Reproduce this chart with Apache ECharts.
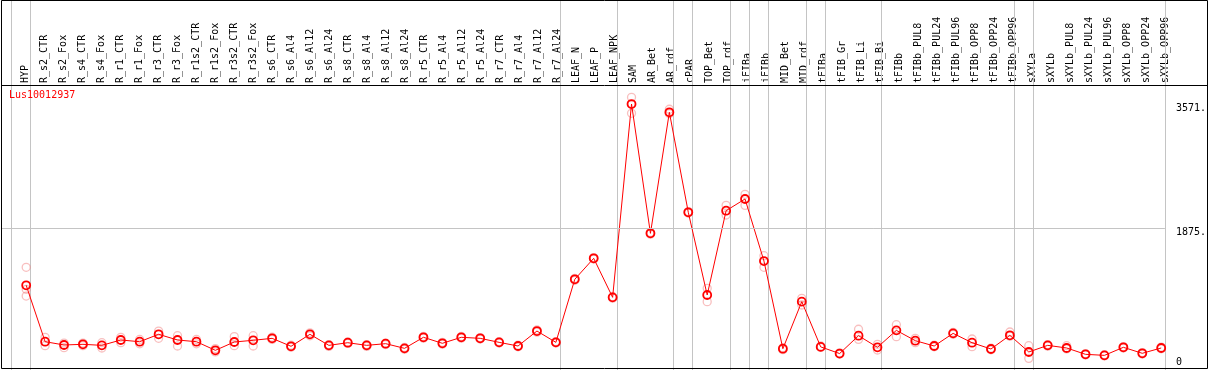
<!DOCTYPE html>
<html>
<head>
<meta charset="utf-8">
<script src="https://cdn.jsdelivr.net/npm/echarts@6/dist/echarts.min.js"></script>
<style>html,body{margin:0;padding:0;background:#fff;}#c{width:1209px;height:370px;}</style>
</head>
<body>
<div id="c"></div>
<script>
const geneName = 'Lus10012937';
const categories = ['HYP','R_s2_CTR','R_s2_Fox','R_s4_CTR','R_s4_Fox','R_r1_CTR','R_r1_Fox','R_r3_CTR','R_r3_Fox',
  'R_r1s2_CTR','R_r1s2_Fox','R_r3s2_CTR','R_r3s2_Fox','R_s6_CTR','R_s6_Al4','R_s6_Al12','R_s6_Al24',
  'R_s8_CTR','R_s8_Al4','R_s8_Al12','R_s8_Al24','R_r5_CTR','R_r5_Al4','R_r5_Al12','R_r5_Al24',
  'R_r7_CTR','R_r7_Al4','R_r7_Al12','R_r7_Al24','LEAF_N','LEAF_P','LEAF_NPK','SAM','AR_Bet','AR_rdf',
  'cPAR','TOP_Bet','TOP_rdf','iFIBa','iFIBb','MID_Bet','MID_rdf','tFIBa','tFIB_Gr','tFIB_Li','tFIB_Bi',
  'tFIBb','tFIBb_PUL8','tFIBb_PUL24','tFIBb_PUL96','tFIBb_OPP8','tFIBb_OPP24','tFIBb_OPP96',
  'sXYLa','sXYLb','sXYLb_PUL8','sXYLb_PUL24','sXYLb_PUL96','sXYLb_OPP8','sXYLb_OPP24','sXYLb_OPP96'];
const meanValues = [1091,319,274,283,269,342,319,420,342,319,201,315,338,365,256,420,269,305,269,292,228,
  379,297,379,365,310,260,465,310,1173,1460,926,3571,1802,3458,2090,958,2112,2272,1423,223,867,248,157,
  401,242,474,333,260,433,305,219,406,178,269,233,146,132,242,160,233];
const rep1 = [1337,379,300,300,305,379,350,465,401,350,225,388,401,380,270,440,280,315,280,300,240,390,310,
  390,375,320,270,480,320,1185,1470,935,3663,1815,3500,2100,1050,2185,2336,1496,235,912,260,165,489,283,
  552,365,270,447,356,230,452,264,280,264,155,140,250,170,245];
const rep2 = [944,264,237,265,233,305,290,365,260,290,180,264,260,350,245,400,255,295,255,280,215,368,285,
  368,355,300,250,450,300,1160,1450,915,3445,1790,3440,2080,867,2053,2185,1337,210,821,240,150,351,205,
  388,305,250,420,251,208,395,91,258,220,138,125,232,150,222];
const rep3 = [1036];
// group separators are drawn after these category indices
const groupEnds = [-1,0,28,31,34,35,37,38,39,41,42,45,52,53,60];
const yMarks = [0, 1875, 3571];
const yGrid = [1875];

const XMIN = -1.3316, XMAX = 60.195;
const YMIN = -54.7, YMAX = 3832.1;
const mono = 'DejaVu Sans Mono';
const RED = '#ff0000';
const PINK = 'rgba(240,110,110,0.55)';
const GRAY = '#c4c4c4';

const toPts = arr => arr.map((v, i) => [i, v]).filter(p => p[1] != null);

// separators drawn through the library's x scale, full height of the chart
function renderSeparators(params, api) {
  const x = Math.round(api.coord([api.value(0), 0])[0]) + 0.5;
  const h = api.getHeight();
  return { type: 'line', silent: true,
    shape: { x1: x, y1: 0, x2: x, y2: h },
    style: { stroke: GRAY, lineWidth: 1 } };
}

const chart = echarts.init(document.getElementById('c'), null, { renderer: 'canvas' });
chart.setOption({
  animation: false,
  backgroundColor: '#fff',
  title: { text: geneName, left: 9, top: 90, padding: 0,
    textStyle: { color: RED, fontFamily: mono, fontSize: 10, fontWeight: 'normal' } },
  grid: [
    { left: 1, right: 39, top: 0, height: 85 },
    { left: 1, right: 39, top: 85, bottom: 1 }
  ],
  xAxis: [
    { gridIndex: 0, type: 'value', min: XMIN, max: XMAX, position: 'bottom',
      axisLine: { show: false }, axisTick: { show: false }, splitLine: { show: false },
      axisLabel: { inside: true, rotate: 90, margin: 2, color: '#000',
        customValues: categories.map((_, i) => i),
        formatter: v => '{c|' + categories[Math.round(v)] + '}',
        rich: { c: { fontFamily: mono, fontSize: 10, color: '#000', padding: [0, 0, 2, 0] } } } },
    { gridIndex: 1, type: 'value', min: XMIN, max: XMAX,
      axisLine: { show: false }, axisTick: { show: false }, splitLine: { show: false }, axisLabel: { show: false } }
  ],
  yAxis: [
    { gridIndex: 0, type: 'value', min: 0, max: 1, show: false },
    { gridIndex: 1, type: 'value', min: YMIN, max: YMAX, position: 'right',
      axisLine: { show: false }, axisTick: { show: false }, splitLine: { show: false },
      axisLabel: { margin: 11, color: '#000', fontFamily: mono, fontSize: 10, align: 'left',
        customValues: yMarks,
        formatter: v => v === 0 ? '{u|0}' : '{d|' + v + '.}',
        rich: { u: { padding: [0, 0, 5, 0], fontFamily: mono, fontSize: 10 },
                d: { padding: [9, 0, 0, 0], fontFamily: mono, fontSize: 10 } } } }
  ],
  series: [
    { type: 'custom', xAxisIndex: 1, yAxisIndex: 1, silent: true, z: 1, clip: false,
      data: groupEnds.map(i => [i + 0.21]), renderItem: renderSeparators, encode: { x: 0 } },
    { type: 'line', xAxisIndex: 1, yAxisIndex: 1, data: [], silent: true, z: 1,
      markLine: { silent: true, symbol: 'none', label: { show: false }, animation: false,
        lineStyle: { color: GRAY, width: 1, type: 'solid' },
        data: yGrid.map(v => ({ yAxis: v })) } },
    { name: 'rep1', type: 'scatter', xAxisIndex: 1, yAxisIndex: 1, data: toPts(rep1), z: 2,
      symbol: 'circle', symbolSize: 8,
      itemStyle: { color: 'rgba(0,0,0,0)', borderColor: PINK, borderWidth: 1.3 } },
    { name: 'rep2', type: 'scatter', xAxisIndex: 1, yAxisIndex: 1, data: toPts(rep2), z: 2,
      symbol: 'circle', symbolSize: 8,
      itemStyle: { color: 'rgba(0,0,0,0)', borderColor: PINK, borderWidth: 1.3 } },
    { name: 'rep3', type: 'scatter', xAxisIndex: 1, yAxisIndex: 1, data: toPts(rep3), z: 2,
      symbol: 'circle', symbolSize: 8,
      itemStyle: { color: 'rgba(0,0,0,0)', borderColor: PINK, borderWidth: 1.3 } },
    { name: 'mean', type: 'line', xAxisIndex: 1, yAxisIndex: 1, data: toPts(meanValues), z: 3,
      symbol: 'circle', symbolSize: 8, showSymbol: true,
      lineStyle: { color: RED, width: 1 },
      itemStyle: { color: 'rgba(0,0,0,0)', borderColor: RED, borderWidth: 1.8 } }
  ],
  graphic: [
    { type: 'rect', silent: true, z: 10, shape: { x: 1.5, y: 0.5, width: 1206, height: 368 },
      style: { fill: null, stroke: '#000', lineWidth: 1 } },
    { type: 'line', silent: true, z: 10, shape: { x1: 1.5, y1: 85.5, x2: 1207.5, y2: 85.5 },
      style: { stroke: '#000', lineWidth: 1 } }
  ]
});
</script>
</body>
</html>
